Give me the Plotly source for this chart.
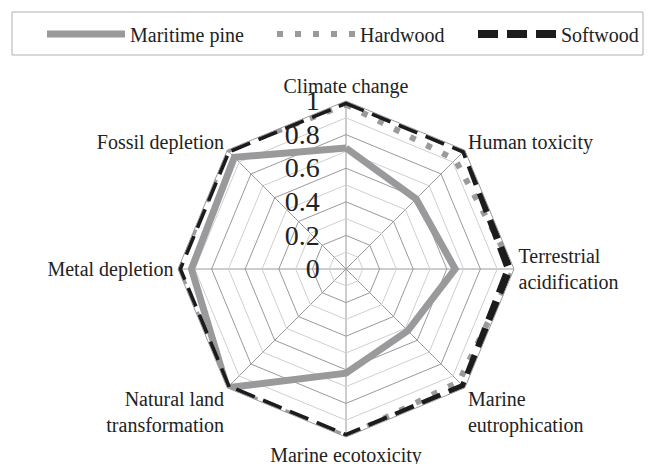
import plotly.graph_objects as go

categories = ["Climate change", "Human toxicity", "Terrestrial<br>acidification",
              "Marine<br>eutrophication", "Marine ecotoxicity",
              "Natural land<br>transformation", "Metal depletion", "Fossil depletion"]
maritime_pine = [0.72, 0.59, 0.65, 0.52, 0.62, 1.0, 0.92, 0.94]
hardwood = [0.98, 0.92, 1.0, 0.95, 1.0, 1.0, 1.0, 1.0]
softwood = [1.0, 1.0, 0.97, 0.99, 1.0, 1.0, 1.0, 1.0]
minor_levels = [0.1, 0.3, 0.5, 0.7, 0.9]
radial_ticks = [0, 0.2, 0.4, 0.6, 0.8, 1]

FONT = "Liberation Serif"

def closed(v):
    return list(v) + [v[0]]

cats_closed = closed(categories)

fig = go.Figure()

for lv in minor_levels:
    fig.add_trace(go.Scatterpolar(
        r=[lv] * len(cats_closed), theta=cats_closed, mode="lines",
        line=dict(color="#cfcfcf", width=1), showlegend=False, hoverinfo="skip"))

fig.add_trace(go.Scatterpolar(
    r=closed(maritime_pine), theta=cats_closed, mode="lines", name="Maritime pine",
    line=dict(color="#9a9a9c", width=7), legend="legend"))
fig.add_trace(go.Scatterpolar(
    r=closed(hardwood), theta=cats_closed, mode="lines", name="Hardwood",
    line=dict(color="#9a9a9c", width=6, dash="6px,12px"), legend="legend2"))
fig.add_trace(go.Scatterpolar(
    r=closed(softwood), theta=cats_closed, mode="lines", name="Softwood",
    line=dict(color="#1c1c1e", width=8, dash="20px,9px"), legend="legend3"))

W, H = 652, 464
cx, cy, R = 346, 269, 168


def leg(xpx):
    return dict(orientation="h", x=xpx / W, xanchor="left", y=(H - 34) / H, yanchor="middle",
                font=dict(size=20, family=FONT, color="#222"),
                itemwidth=78, bgcolor="rgba(0,0,0,0)")


fig.update_layout(
    width=W, height=H,
    margin=dict(l=0, r=0, t=0, b=0),
    paper_bgcolor="white", plot_bgcolor="white",
    font=dict(family=FONT, color="#222222"),
    polar=dict(
        domain=dict(x=[(cx - R) / W, (cx + R) / W], y=[(H - cy - R) / H, (H - cy + R) / H]),
        bgcolor="white",
        gridshape="linear",
        radialaxis=dict(range=[0, 1], tickvals=radial_ticks, ticktext=[str(t) for t in radial_ticks],
                        angle=90, tickangle=90, side="counterclockwise",
                        showline=False, ticks="outside", ticklen=16, tickcolor="rgba(0,0,0,0)",
                        gridcolor="#9a9a9a", gridwidth=1,
                        tickfont=dict(size=28, family=FONT, color="#222")),
        angularaxis=dict(rotation=90, direction="clockwise", gridcolor="#9a9a9a",
                         linecolor="#9a9a9a", linewidth=1, ticks="",
                         tickfont=dict(size=20, family=FONT, color="#222")),
    ),
    legend=leg(42),
    legend2=leg(272),
    legend3=leg(473),
    shapes=[dict(type="rect", xref="paper", yref="paper",
                 x0=12 / W, x1=643 / W, y0=(H - 55) / H, y1=(H - 12) / H,
                 line=dict(color="#b0b0b0", width=1))],
)

fig.write_html("out.html", config={"displayModeBar": False},
               post_script="document.body.style.margin='0';")
